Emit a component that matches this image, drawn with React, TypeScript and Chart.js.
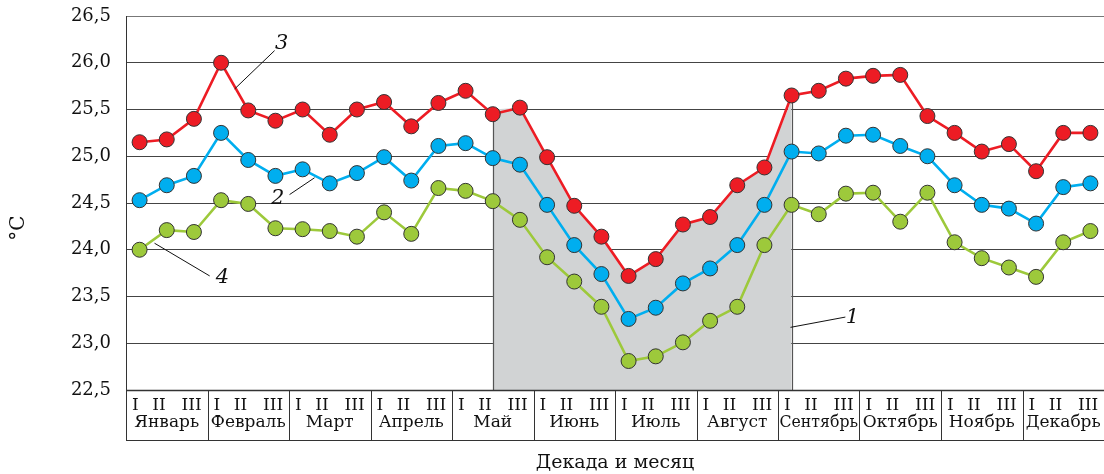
import React, { useEffect, useRef } from 'react';
import { Chart, registerables } from 'chart.js';

Chart.register(...registerables);

const months = ['Январь', 'Февраль', 'Март', 'Апрель', 'Май', 'Июнь', 'Июль', 'Август', 'Сентябрь', 'Октябрь', 'Ноябрь', 'Декабрь'];
const decades = ['I', 'II', 'III'];
const categories = months.flatMap((m) => decades.map((d) => `${d} ${m}`));

const yTicks = [22.5, 23.0, 23.5, 24.0, 24.5, 25.0, 25.5, 26.0, 26.5];

// 3 — red
const series3 = [
  25.15, 25.18, 25.40, 26.0, 25.49, 25.38, 25.5, 25.23, 25.5, 25.58, 25.32, 25.57,
  25.70, 25.45, 25.52, 24.99, 24.47, 24.14, 23.72, 23.90, 24.27, 24.35, 24.69, 24.88,
  25.65, 25.70, 25.83, 25.86, 25.87, 25.43, 25.25, 25.05, 25.13, 24.84, 25.25, 25.25,
];
// 2 — blue
const series2 = [
  24.53, 24.69, 24.79, 25.25, 24.96, 24.79, 24.86, 24.71, 24.82, 24.99, 24.74, 25.11,
  25.14, 24.98, 24.91, 24.48, 24.05, 23.74, 23.26, 23.38, 23.64, 23.80, 24.05, 24.48,
  25.05, 25.03, 25.22, 25.23, 25.11, 25.0, 24.69, 24.48, 24.44, 24.28, 24.67, 24.71,
];
// 4 — green
const series4 = [
  24.0, 24.21, 24.19, 24.53, 24.49, 24.23, 24.22, 24.20, 24.14, 24.40, 24.17, 24.66,
  24.63, 24.52, 24.32, 23.92, 23.66, 23.39, 22.81, 22.86, 23.01, 23.24, 23.39, 24.05,
  24.48, 24.38, 24.60, 24.61, 24.30, 24.61, 24.08, 23.91, 23.81, 23.71, 24.08, 24.20,
];
// 1 — shaded period
const series1 = [
  null, null, null, null, null, null, null, null, null, null, null, null,
  null, 25.5, 25.52, 24.99, 24.47, 24.14, 23.72, 23.90, 24.27, 24.35, 24.69, 24.88,
  25.6, null, null, null, null, null, null, null, null, null, null, null,
];

// annotation labels in data units (category index, value)
const annotations = [
  { text: '3', tx: 5.23, ty: 26.21, x1: 3.5, y1: 25.72, x2: 4.97, y2: 26.13 },
  { text: '2', tx: 5.08, ty: 24.55, x1: 5.52, y1: 24.59, x2: 6.44, y2: 24.77 },
  { text: '4', tx: 3.05, ty: 23.70, x1: 0.55, y1: 24.07, x2: 2.58, y2: 23.72 },
  { text: '1', tx: 26.24, ty: 23.28, x1: 23.96, y1: 23.17, x2: 25.98, y2: 23.28 },
];

const SERIF = "'DejaVu Serif', serif";
const RED = '#ED1C24';
const BLUE = '#00AEEF';
const GREEN = '#9DC93B';
const SHADE = '#D1D3D4';
const INK = '#111111';

const FILL_INDEX = 3;

const overlayPlugin = {
  id: 'overlay',
  afterDatasetDraw(chart: any, args: any) {
    if (args.index !== FILL_INDEX) return;
    const { ctx, chartArea } = chart;
    const xs = chart.scales.x;
    const ys = chart.scales.y;
    const idx = series1.map((v, i) => (v == null ? -1 : i)).filter((i) => i >= 0);
    const first = idx[0];
    const last = idx[idx.length - 1];
    ctx.save();
    ctx.strokeStyle = '#555';
    ctx.lineWidth = 1.2;
    [first, last].forEach((i) => {
      const px = Math.round(xs.getPixelForValue(i)) + 0.5;
      ctx.beginPath();
      ctx.moveTo(px, ys.getPixelForValue(series1[i] as number));
      ctx.lineTo(px, chartArea.bottom);
      ctx.stroke();
    });
    ctx.restore();
  },
  afterDraw(chart: any) {
    const { ctx, chartArea } = chart;
    const xs = chart.scales.x;
    const ys = chart.scales.y;
    const step = xs.getPixelForValue(1) - xs.getPixelForValue(0);
    const bottom = chartArea.bottom;
    const tableBottom = bottom + 50.5;
    ctx.save();
    ctx.strokeStyle = '#333';
    ctx.lineWidth = 1.4;
    ctx.beginPath();
    ctx.moveTo(chartArea.left, bottom + 0.5);
    ctx.lineTo(chartArea.right, bottom + 0.5);
    ctx.stroke();
    ctx.lineWidth = 1;
    ctx.beginPath();
    const lx = Math.round(chartArea.left) + 0.5;
    ctx.moveTo(lx, chartArea.top);
    ctx.lineTo(lx, tableBottom);
    ctx.stroke();
    ctx.beginPath();
    ctx.moveTo(chartArea.left, tableBottom);
    ctx.lineTo(chartArea.right, tableBottom);
    ctx.stroke();
    months.forEach((m, mi) => {
      const left = xs.getPixelForValue(mi * 3) - step / 2;
      const w = step * 3;
      if (mi > 0) {
        const px = Math.round(left) + 0.5;
        ctx.beginPath();
        ctx.moveTo(px, bottom);
        ctx.lineTo(px, tableBottom);
        ctx.stroke();
      }
      ctx.fillStyle = INK;
      ctx.textBaseline = 'middle';
      ctx.textAlign = 'center';
      ctx.font = `17px ${SERIF}`;
      const fr = [0.115, 0.405, 0.805];
      decades.forEach((d, di) => {
        ctx.fillText(d, left + fr[di] * w, bottom + 16);
      });
      ctx.font = `17px ${SERIF}`;
      ctx.fillText(m, left + w / 2, bottom + 33, w - 3);
    });
    ctx.fillStyle = INK;
    ctx.font = `19px ${SERIF}`;
    ctx.textAlign = 'center';
    ctx.textBaseline = 'middle';
    ctx.fillText('Декада и месяц', (chartArea.left + chartArea.right) / 2, bottom + 73);
    ctx.save();
    ctx.translate(19, (chartArea.top + chartArea.bottom) / 2 + 25);
    ctx.rotate(-Math.PI / 2);
    ctx.font = `20px ${SERIF}`;
    ctx.fillText('°C', 0, 0);
    ctx.restore();
    ctx.strokeStyle = INK;
    ctx.lineWidth = 1;
    ctx.font = `italic 21px ${SERIF}`;
    annotations.forEach((a) => {
      const px = (v: number) => xs.getPixelForValue(0) + v * step;
      ctx.beginPath();
      ctx.moveTo(px(a.x1), ys.getPixelForValue(a.y1));
      ctx.lineTo(px(a.x2), ys.getPixelForValue(a.y2));
      ctx.stroke();
      ctx.fillText(a.text, px(a.tx), ys.getPixelForValue(a.ty));
    });
    ctx.restore();
  },
};

function lineDs(label: string, data: number[], color: string) {
  return {
    label,
    data,
    borderColor: color,
    backgroundColor: color,
    borderWidth: 2.6,
    pointRadius: 7.5,
    pointBorderColor: '#333',
    pointBorderWidth: 1,
    pointBackgroundColor: color,
    tension: 0,
    fill: false,
  };
}

export default function App() {
  const ref = useRef<HTMLCanvasElement | null>(null);
  useEffect(() => {
    if (!ref.current) return;
    const chart = new Chart(ref.current, {
      type: 'line',
      data: {
        labels: categories,
        datasets: [
          lineDs('3', series3, RED),
          lineDs('2', series2, BLUE),
          lineDs('4', series4, GREEN),
          {
            label: '1',
            data: series1,
            borderWidth: 0,
            borderColor: 'rgba(0,0,0,0)',
            backgroundColor: SHADE,
            pointRadius: 0,
            fill: 'start',
            spanGaps: false,
            tension: 0,
          } as any,
        ],
      },
      options: {
        animation: false,
        responsive: false,
        devicePixelRatio: 1,
        layout: { autoPadding: false, padding: { top: 16, left: 0, right: 0, bottom: 0 } },
        plugins: { legend: { display: false }, tooltip: { enabled: false } },
        scales: {
          x: {
            type: 'category',
            offset: true,
            grid: { display: false },
            border: { display: false },
            ticks: { display: false },
            afterFit: (s: any) => { s.height = 84; },
          },
          y: {
            min: 22.5,
            max: 26.5,
            afterBuildTicks: (s: any) => { s.ticks = yTicks.map((v) => ({ value: v })); },
            ticks: {
              callback: (v: any) => Number(v).toFixed(1).replace('.', ','),
              font: { family: SERIF, size: 18 },
              color: INK,
              padding: 15,
            },
            grid: {
              color: (c: any) => (c.tick && c.tick.value === 26.5 ? '#777' : '#444'),
              lineWidth: 1,
              drawTicks: false,
            },
            border: { display: false },
            afterFit: (s: any) => { s.width = 126; s.paddingTop = 0; s.paddingBottom = 0; },
          },
        },
      },
      plugins: [overlayPlugin],
    });
    return () => chart.destroy();
  }, []);
  return (
    <div style={{ position: 'absolute', left: 0, top: 0, width: 1104, height: 474, background: '#fff' }}>
      <canvas ref={ref} width={1104} height={474} />
    </div>
  );
}
